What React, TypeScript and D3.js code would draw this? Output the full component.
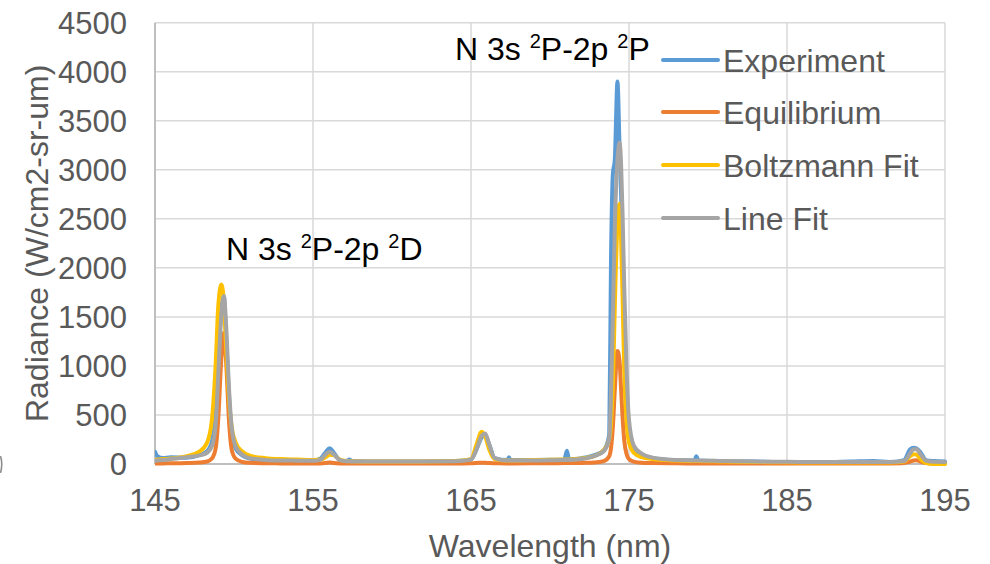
import React from "react";
import * as d3 from "d3";

const wavelength = [
  145.0, 145.15, 145.5, 146.0, 147.0, 147.8, 148.3, 148.6, 148.85, 149.0,
  149.2, 149.36, 149.5, 149.7, 149.85, 150.1, 150.5, 151.0, 152.0, 153.0,
  154.0, 155.0, 155.5, 155.8, 156.05, 156.3, 156.7, 157.1, 157.3, 157.5,
  158.5, 160, 162, 164, 165.0, 165.35, 165.68, 165.9, 166.15, 166.5,
  167.3, 167.4, 167.5, 169, 170.9, 171.07, 171.2, 172, 172.8, 173.4,
  173.75, 173.86, 173.98, 174.1, 174.27, 174.4, 174.5, 174.6, 174.7, 174.85,
  175.0, 175.3, 175.8, 176.5, 178, 179.15, 179.26, 179.4, 181, 183,
  185, 187, 189, 190.5, 191.5, 192.4, 192.8, 193.0, 193.2, 193.45,
  193.8, 194.3, 195,
];

const experiment = [
  125, 80, 60, 70, 65, 90, 130, 230, 550, 1050,
  1580, 1700, 1300, 650, 340, 160, 90, 55, 38, 32,
  30, 35, 60, 120, 160, 120, 40, 30, 45, 30,
  25, 25, 25, 30, 45, 150, 270, 290, 200, 60,
  40, 70, 40, 40, 45, 135, 50, 60, 90, 140,
  300, 2070, 2960, 3100, 3900, 3250, 2750, 2000, 1250, 600,
  300, 140, 90, 60, 40, 35, 80, 35, 30, 25,
  20, 20, 25, 30, 20, 40, 150, 165, 160, 120,
  40, 30, 25,
];

const equilibrium = [
  5, 5, 6, 7, 10, 15, 25, 55, 170, 450,
  1080, 1337, 1050, 400, 150, 55, 22, 12, 8, 6,
  5, 5, 6, 10, 15, 10, 6, 5, 5, 5,
  5, 5, 5, 6, 7, 10, 14, 13, 10, 7,
  6, 6, 6, 7, 9, 9, 9, 11, 15, 30,
  80, 160, 380, 750, 1153, 1050, 760, 460, 240, 100,
  50, 24, 12, 9, 7, 6, 6, 6, 5, 5,
  5, 5, 5, 5, 6, 10, 25, 35, 38, 25,
  10, 6, 5,
];

const boltzmannFit = [
  40, 45, 50, 55, 80, 125, 220, 450, 1050, 1600,
  1830, 1650, 1200, 620, 380, 220, 130, 85, 60, 50,
  45, 40, 45, 70, 95, 90, 45, 30, 28, 27,
  25, 25, 25, 30, 50, 200, 330, 280, 150, 50,
  35, 35, 35, 40, 45, 45, 45, 55, 80, 140,
  250, 400, 800, 1600, 2450, 2653, 2300, 1650, 950, 430,
  220, 115, 70, 50, 35, 30, 30, 30, 25, 20,
  18, 15, 15, 15, 15, 25, 80, 100, 95, 50,
  10, 0, 0,
];

const lineFit = [
  34, 36, 40, 50, 70, 88, 115, 180, 420, 900,
  1520, 1714, 1420, 720, 380, 180, 100, 60, 42, 36,
  34, 32, 45, 100, 125, 100, 40, 28, 27, 26,
  25, 25, 25, 28, 45, 150, 290, 310, 200, 60,
  35, 35, 35, 35, 40, 40, 40, 50, 80, 130,
  260, 700, 1500, 2400, 3100, 3279, 3050, 2500, 1800, 950,
  450, 190, 105, 65, 40, 35, 35, 35, 30, 25,
  22, 20, 20, 20, 20, 30, 110, 150, 150, 100,
  35, 22, 20,
];

const seriesNames = ["Experiment", "Equilibrium", "Boltzmann Fit", "Line Fit"];
const seriesColors = ["#5B9BD5", "#ED7D31", "#FFC000", "#A5A5A5"];
const seriesValues = [experiment, equilibrium, boltzmannFit, lineFit];

const xTicks = [145, 155, 165, 175, 185, 195];
const yTicks = [0, 500, 1000, 1500, 2000, 2500, 3000, 3500, 4000, 4500];

const annotations = [
  { lead: "N 3s ", mid: "P-2p ", end: "D" },
  { lead: "N 3s ", mid: "P-2p ", end: "P" },
];

const FONT = "'Liberation Sans', Arial, sans-serif";

export default function App() {
  const W = 990;
  const H = 564;
  const left = 155;
  const right = 945;
  const top = 22.7;
  const bottom = 464;

  const x = d3.scaleLinear().domain([145, 195]).range([left, right]);
  const y = d3.scaleLinear().domain([0, 4500]).range([bottom, top]);

  const line = d3
    .line<[number, number]>()
    .x((d) => x(d[0]))
    .y((d) => y(d[1]))
    .curve(d3.curveMonotoneX);

  const legendY = [60, 112, 165, 218];
  const annPos = [
    { x: 226, y: 260 },
    { x: 455, y: 60 },
  ];

  return (
    <div style={{ position: "fixed", left: 0, top: 0 }}>
      <svg width={W} height={H} style={{ display: "block", background: "#fff" }}>
        <defs>
          <clipPath id="plotClip">
            <rect x={left} y={0} width={right - left + 4} height={bottom + 6} />
          </clipPath>
        </defs>
        {yTicks.filter((t) => t > 0).map((t) => (
          <line key={"gy" + t} x1={left} x2={right} y1={y(t)} y2={y(t)} stroke="#d9d9d9" strokeWidth={1.5} />
        ))}
        {xTicks.filter((t) => t > 145).map((t) => (
          <line key={"gx" + t} x1={x(t)} x2={x(t)} y1={top} y2={bottom} stroke="#d9d9d9" strokeWidth={1.5} />
        ))}
        <line x1={left} x2={left} y1={top} y2={bottom} stroke="#bfbfbf" strokeWidth={2} />
        <line x1={left} x2={right} y1={bottom} y2={bottom} stroke="#bfbfbf" strokeWidth={2} />

        <g clipPath="url(#plotClip)">
          {seriesValues.map((vals, i) => (
            <path
              key={seriesNames[i]}
              d={line(wavelength.map((w, j) => [w, vals[j]] as [number, number])) || ""}
              fill="none"
              stroke={seriesColors[i]}
              strokeWidth={4}
              strokeLinejoin="round"
              strokeLinecap="round"
            />
          ))}
        </g>

        {yTicks.map((t) => (
          <text key={"yl" + t} x={127} y={y(t)} dy="0.36em" textAnchor="end" fontFamily={FONT} fontSize={31} fill="#595959">
            {t}
          </text>
        ))}
        {xTicks.map((t) => (
          <text key={"xl" + t} x={x(t)} y={511} textAnchor="middle" fontFamily={FONT} fontSize={31} fill="#595959">
            {t}
          </text>
        ))}

        <text x={(left + right) / 2} y={557} textAnchor="middle" fontFamily={FONT} fontSize={32} fill="#595959">
          Wavelength (nm)
        </text>
        <text
          transform={`translate(48,${(top + bottom) / 2}) rotate(-90)`}
          textAnchor="middle"
          fontFamily={FONT}
          fontSize={32}
          fill="#595959"
        >
          Radiance (W/cm2-sr-um)
        </text>
        {/* clipped glyph fragment at the far left edge */}
        <path d="M0.5,456 Q3,464 0.5,473" fill="none" stroke="#8c8c8c" strokeWidth={1.6} />

        {annotations.map((a, i) => (
          <text key={"an" + i} x={annPos[i].x} y={annPos[i].y} fontFamily={FONT} fontSize={32} fill="#000">
            {a.lead}
            <tspan fontSize={20} dy={-12}>2</tspan>
            <tspan dy={12}>{a.mid}</tspan>
            <tspan fontSize={20} dy={-12}>2</tspan>
            <tspan dy={12}>{a.end}</tspan>
          </text>
        ))}

        {seriesNames.map((n, i) => (
          <g key={"lg" + n}>
            <line x1={663} x2={718} y1={legendY[i]} y2={legendY[i]} stroke={seriesColors[i]} strokeWidth={4} strokeLinecap="round" />
            <text x={723} y={legendY[i]} dy="0.36em" fontFamily={FONT} fontSize={32} fill="#595959">
              {n}
            </text>
          </g>
        ))}
      </svg>
    </div>
  );
}
